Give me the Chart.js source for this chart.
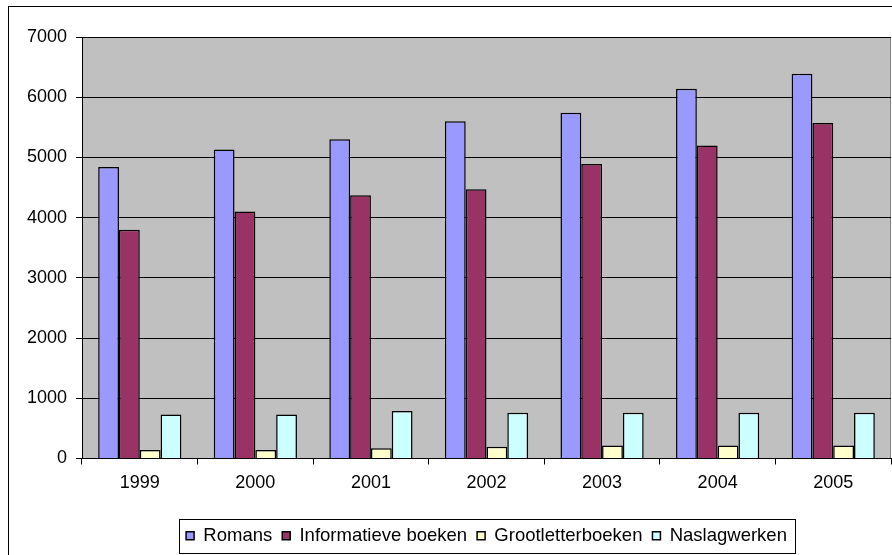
<!DOCTYPE html>
<html>
<head>
<meta charset="utf-8">
<script src="https://cdn.jsdelivr.net/npm/chart.js@4"></script>
<style>
  html, body { margin: 0; padding: 0; background: #fff; }
  #wrap { width: 892px; height: 555px; }
</style>
</head>
<body>
<div id="wrap"><canvas id="bar" width="892" height="555"></canvas></div>
<script>
// jaren en reeksen
const jaren = ['1999', '2000', '2001', '2002', '2003', '2004', '2005'];
const romans = [4840, 5130, 5300, 5600, 5740, 6140, 6390];
const informatieveBoeken = [3800, 4100, 4370, 4470, 4890, 5200, 5570];
const grootletterboeken = [140, 140, 170, 195, 215, 215, 215];
const naslagwerken = [730, 730, 790, 760, 760, 760, 760];
const yMax = 7000;
const yStap = 1000;

const fontNaam = '"Liberation Sans", Arial, sans-serif';

// grijze achtergrond, randen van plotvlak, kader om legenda en kader om grafiek
const achtergrond = {
    id: 'achtergrond',
    beforeDraw(chart) {
        const ctx = chart.ctx;
        const a = chart.chartArea;
        ctx.save();
        ctx.fillStyle = '#C0C0C0';
        ctx.fillRect(a.left, a.top, a.right - a.left, a.bottom - a.top);
        ctx.strokeStyle = '#808080';
        ctx.lineWidth = 1;
        ctx.beginPath();
        ctx.moveTo(a.left, a.top + 0.5);
        ctx.lineTo(a.right - 0.5, a.top + 0.5);
        ctx.lineTo(a.right - 0.5, a.bottom);
        ctx.stroke();
        // kader om grafiek
        ctx.strokeStyle = '#000';
        ctx.strokeRect(8.5, 6.5, 1000, 1000);
        ctx.restore();
    },
    afterDraw(chart) {
        const ctx = chart.ctx;
        const boxes = chart.legend.legendHitBoxes;
        if (!boxes || !boxes.length) return;
        let links = Infinity, rechts = -Infinity, midden = 0;
        boxes.forEach(b => {
            links = Math.min(links, b.left);
            rechts = Math.max(rechts, b.left + b.width);
            midden = b.top + b.height / 2;
        });
        ctx.save();
        ctx.strokeStyle = '#000';
        ctx.lineWidth = 1;
        ctx.strokeRect(Math.round(links - 7) + 0.5, Math.round(midden - 17) + 0.5,
            Math.round(rechts - links + 15), 34);
        ctx.restore();
    }
};

new Chart(document.getElementById('bar'), {
    type: 'bar',
    data: {
        labels: jaren,
        datasets: [
            { label: 'Romans', data: romans, backgroundColor: '#9999FF' },
            { label: 'Informatieve boeken', data: informatieveBoeken, backgroundColor: '#993366' },
            { label: 'Grootletterboeken', data: grootletterboeken, backgroundColor: '#FFFFCC' },
            { label: 'Naslagwerken', data: naslagwerken, backgroundColor: '#CCFFFF' }
        ].map(d => Object.assign(d, {
            borderColor: '#000',
            borderWidth: 1.5,
            categoryPercentage: 0.72,
            barPercentage: 1
        }))
    },
    options: {
        responsive: false,
        animation: false,
        layout: { padding: { left: 0, right: 1, top: 37, bottom: 0 } },
        plugins: {
            tooltip: { enabled: false },
            legend: {
                position: 'bottom',
                fullSize: false,
                labels: {
                    boxWidth: 8,
                    boxHeight: 8,
                    padding: 10,
                    color: '#000',
                    font: { family: fontNaam, size: 18.5 }
                }
            }
        },
        scales: {
            x: {
                grid: { display: true, drawOnChartArea: false, color: '#000', tickLength: 6, offset: true },
                border: { color: '#000' },
                ticks: { color: '#000', padding: 8, font: { family: fontNaam, size: 18 }, maxRotation: 0 },
                afterFit: (scale) => { scale.height = 58; }
            },
            y: {
                min: 0,
                max: yMax,
                grid: { color: '#000', tickLength: 6 },
                border: { color: '#000' },
                ticks: {
                    color: '#000', stepSize: yStap, padding: 9,
                    font: { family: fontNaam, size: 18 },
                    callback: (value) => String(value)
                },
                afterFit: (scale) => { scale.width = 82; }
            }
        }
    },
    plugins: [achtergrond]
});
</script>
</body>
</html>
